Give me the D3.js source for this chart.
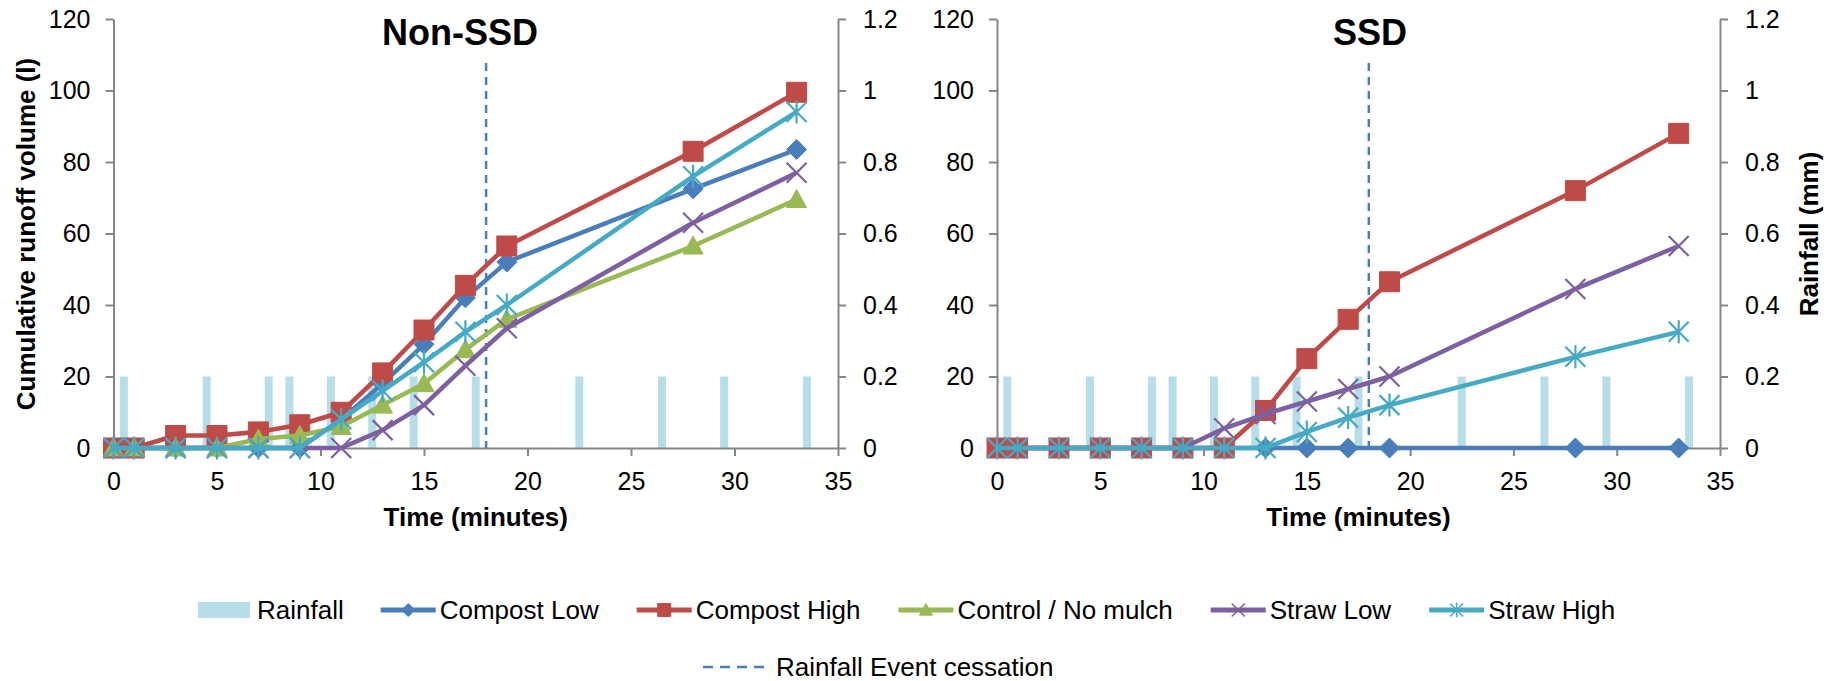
<!DOCTYPE html>
<html>
<head>
<meta charset="utf-8">
<script src="https://cdn.jsdelivr.net/npm/d3@7"></script>
<style>
  body { margin: 0; background: #fff; }
  svg { display: block; }
  text { font-family: "Liberation Sans", Arial, sans-serif; fill: #000; }
</style>
</head>
<body>
<div id="chart"></div>
<script>
const width = 1834;
const height = 681;

// === DATOS ===
const times = [0, 1, 3, 5, 7, 9, 11, 13, 15, 17, 19, 28, 33];
const rainTimes = [0.5, 4.5, 7.5, 8.5, 10.5, 12.5, 14.5, 17.5, 22.5, 26.5, 29.5, 33.5];
const rainMm = [0.2, 0.2, 0.2, 0.2, 0.2, 0.2, 0.2, 0.2, 0.2, 0.2, 0.2, 0.2];
const cessationTime = 18;

const nonSsdCompostLow  = [0, 0, 0, 0, 0, 0, 8, 18, 29, 42, 52, 72.5, 83.5];
const nonSsdCompostHigh = [0, 0, 3.5, 3.5, 4.5, 6.5, 10, 21, 33, 45.5, 56.5, 83, 99.5];
const nonSsdControl     = [0, 0, 0, 0, 2.5, 3.5, 6, 12, 18, 27.5, 36, 56.5, 69.5];
const nonSsdStrawLow    = [0, 0, 0, 0, 0, 0, 0, 5, 12, 23, 33.5, 63, 77];
const nonSsdStrawHigh   = [0, 0, 0, 0, 0, 0, 8, 16, 24, 32.5, 40, 76, 94];

const ssdCompostLow  = [0, 0, 0, 0, 0, 0, 0, 0, 0, 0, 0, 0, 0];
const ssdCompostHigh = [0, 0, 0, 0, 0, 0, 0, 10.5, 25, 36, 46.5, 72, 88];
const ssdControl     = [];
const ssdStrawLow    = [0, 0, 0, 0, 0, 0, 5.5, 9.5, 13, 16.5, 20, 44.5, 56.5];
const ssdStrawHigh   = [0, 0, 0, 0, 0, 0, 0, 0, 4.5, 8.5, 12, 25.5, 32.5];

const seriesNames = ["Compost Low", "Compost High", "Control / No mulch", "Straw Low", "Straw High"];
const seriesColors = ["#4a7ebb", "#be4b48", "#98b954", "#7d60a0", "#46aac5"];
const seriesMarkers = ["diamond", "square", "triangle", "cross", "star"];

const xTicks = [0, 5, 10, 15, 20, 25, 30, 35];
const yLeftTicks = [0, 20, 40, 60, 80, 100, 120];
const yRightTicks = [0, 0.2, 0.4, 0.6, 0.8, 1, 1.2];
const yRightLabels = ["0", "0.2", "0.4", "0.6", "0.8", "1", "1.2"];

const rainColor = "#b7dee8";
const axisColor = "#868686";
const dashColor = "#4a7ebb";

const svg = d3.select("#chart").append("svg")
  .attr("width", width)
  .attr("height", height);

svg.append("rect").attr("width", width).attr("height", height).attr("fill", "#fff");

// formas de los marcadores (r = medio tamaño)
function markerPath(tipo, r) {
  switch (tipo) {
    case "diamond": return `M0,${-r}L${r},0L0,${r}L${-r},0Z`;
    case "square": return `M${-r},${-r}H${r}V${r}H${-r}Z`;
    case "triangle": return `M0,${-r}L${r},${r * 0.8}L${-r},${r * 0.8}Z`;
    case "cross": return `M${-r},${-r}L${r},${r}M${-r},${r}L${r},${-r}`;
    case "star": return `M${-r},${-r}L${r},${r}M${-r},${r}L${r},${-r}M0,${-r * 1.15}V${r * 1.15}`;
  }
}
const esLinea = t => t === "cross" || t === "star";

function dibujarPanel(cfg) {
  const x = d3.scaleLinear().domain([0, 35]).range([cfg.x0, cfg.x1]);
  const y = d3.scaleLinear().domain([0, 120]).range([448, 19]);
  const y2 = d3.scaleLinear().domain([0, 1.2]).range([448, 19]);

  const g = svg.append("g");

  // barras de lluvia
  g.selectAll(".lluvia")
    .data(rainTimes.map((t, i) => ({ t, v: rainMm[i] })))
    .join("rect")
    .attr("class", "lluvia")
    .attr("x", d => x(d.t) - 4)
    .attr("width", 8)
    .attr("y", d => y2(d.v))
    .attr("height", d => y2(0) - y2(d.v))
    .attr("fill", rainColor);

  // ejes
  const ejeX = g.append("g").attr("transform", `translate(0,${y(0)})`)
    .call(d3.axisBottom(x).tickValues(xTicks).tickSize(8).tickSizeOuter(0).tickPadding(16));
  const ejeY = g.append("g").attr("transform", `translate(${cfg.x0},0)`)
    .call(d3.axisLeft(y).tickValues(yLeftTicks).tickSize(8).tickSizeOuter(0).tickPadding(15));
  const ejeY2 = g.append("g").attr("transform", `translate(${cfg.x1},0)`)
    .call(d3.axisRight(y2).tickValues(yRightTicks).tickSize(8).tickSizeOuter(0).tickPadding(17)
      .tickFormat((d, i) => yRightLabels[i]));

  [ejeX, ejeY, ejeY2].forEach(e => {
    e.select(".domain").attr("stroke", axisColor).attr("stroke-width", 2);
    e.selectAll(".tick line").attr("stroke", axisColor).attr("stroke-width", 2);
    e.selectAll(".tick text").style("font-size", "25px").attr("fill", "#000")
      .style("font-family", "'Liberation Sans', Arial, sans-serif");
  });

  // línea de fin de lluvia
  g.append("line")
    .attr("x1", x(cessationTime)).attr("x2", x(cessationTime))
    .attr("y1", 63).attr("y2", y(0))
    .attr("stroke", dashColor).attr("stroke-width", 2.5)
    .attr("stroke-dasharray", "8,6");

  // series
  const linea = d3.line().x(d => x(d.t)).y(d => y(d.v));
  cfg.series.forEach((vals, i) => {
    const datos = vals.map((v, j) => ({ t: times[j], v }));
    if (!datos.length) return;
    const col = seriesColors[i];
    const sg = g.append("g");
    sg.append("path").datum(datos)
      .attr("d", linea).attr("fill", "none")
      .attr("stroke", col).attr("stroke-width", 4.5).attr("stroke-linejoin", "round");
    sg.selectAll("path.m").data(datos).join("path")
      .attr("class", "m")
      .attr("transform", d => `translate(${x(d.t)},${y(d.v)})`)
      .attr("d", markerPath(seriesMarkers[i], 10))
      .attr("fill", esLinea(seriesMarkers[i]) ? "none" : col)
      .attr("stroke", col)
      .attr("stroke-width", esLinea(seriesMarkers[i]) ? 2.2 : 1);
  });

  // título
  svg.append("text")
    .attr("x", cfg.tituloX).attr("y", 45)
    .attr("text-anchor", "middle")
    .style("font-size", "36px").style("font-weight", "bold")
    .text(cfg.titulo);

  svg.append("text")
    .attr("x", (cfg.x0 + cfg.x1) / 2).attr("y", 526)
    .attr("text-anchor", "middle")
    .style("font-size", "26px").style("font-weight", "bold")
    .text("Time (minutes)");
}

dibujarPanel({
  titulo: "Non-SSD", tituloX: 460, x0: 113.5, x1: 838,
  series: [nonSsdCompostLow, nonSsdCompostHigh, nonSsdControl, nonSsdStrawLow, nonSsdStrawHigh]
});
dibujarPanel({
  titulo: "SSD", tituloX: 1370, x0: 997, x1: 1720,
  series: [ssdCompostLow, ssdCompostHigh, ssdControl, ssdStrawLow, ssdStrawHigh]
});

// títulos de ejes verticales
svg.append("text")
  .attr("transform", "translate(35,234) rotate(-90)")
  .attr("text-anchor", "middle")
  .style("font-size", "26px").style("font-weight", "bold")
  .text("Cumulative runoff volume (l)");
svg.append("text")
  .attr("transform", "translate(1818,234) rotate(-90)")
  .attr("text-anchor", "middle")
  .style("font-size", "26px").style("font-weight", "bold")
  .text("Rainfall (mm)");

// === LEYENDA ===
const leyenda = svg.append("g").attr("class", "leyenda");
const filaY = 610;
let cx = 198;
leyenda.append("rect").attr("x", cx).attr("y", filaY - 8).attr("width", 52).attr("height", 16).attr("fill", rainColor);
cx += 59;
let t = leyenda.append("text").attr("x", cx).attr("y", filaY).attr("dy", "0.35em")
  .style("font-size", "26px").text("Rainfall");
cx += t.node().getComputedTextLength() + 37;

seriesNames.forEach((nombre, i) => {
  const col = seriesColors[i];
  leyenda.append("line").attr("x1", cx).attr("x2", cx + 55).attr("y1", filaY).attr("y2", filaY)
    .attr("stroke", col).attr("stroke-width", 5);
  leyenda.append("path")
    .attr("transform", `translate(${cx + 27.5},${filaY})`)
    .attr("d", markerPath(seriesMarkers[i], 6.5))
    .attr("fill", esLinea(seriesMarkers[i]) ? "none" : col)
    .attr("stroke", col).attr("stroke-width", esLinea(seriesMarkers[i]) ? 1.5 : 1);
  cx += 59;
  const tx = leyenda.append("text").attr("x", cx).attr("y", filaY).attr("dy", "0.35em")
    .style("font-size", "26px").text(nombre);
  cx += tx.node().getComputedTextLength() + 38;
});

const fila2Y = 667;
leyenda.append("line").attr("x1", 703).attr("x2", 766).attr("y1", fila2Y).attr("y2", fila2Y)
  .attr("stroke", dashColor).attr("stroke-width", 2.5).attr("stroke-dasharray", "10,7");
leyenda.append("text").attr("x", 776).attr("y", fila2Y).attr("dy", "0.35em")
  .style("font-size", "26px").text("Rainfall Event cessation");
</script>
</body>
</html>
